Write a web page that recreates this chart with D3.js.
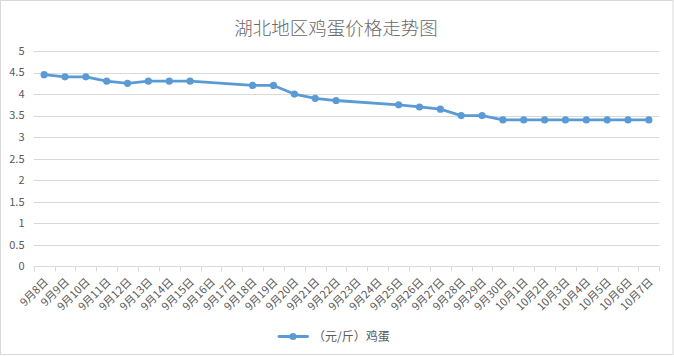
<!DOCTYPE html>
<html><head><meta charset="utf-8">
<script src="https://cdn.jsdelivr.net/npm/d3@7"></script>
<style>body{margin:0;background:#fff}svg{display:block}text{font-family:"Noto Sans CJK SC","Microsoft YaHei",sans-serif;fill:#595959}</style>
</head><body><svg id="c" width="674" height="357"></svg>
<script>
const title = "湖北地区鸡蛋价格走势图";
const seriesName = "（元/斤）鸡蛋";
const categories = ["9月8日","9月9日","9月10日","9月11日","9月12日","9月13日","9月14日","9月15日","9月16日","9月17日","9月18日","9月19日","9月20日","9月21日","9月22日","9月23日","9月24日","9月25日","9月26日","9月27日","9月28日","9月29日","9月30日","10月1日","10月2日","10月3日","10月4日","10月5日","10月6日","10月7日"];
const values = [4.45,4.4,4.4,4.3,4.25,4.3,4.3,4.3,null,null,4.2,4.2,4.0,3.9,3.85,null,null,3.75,3.7,3.65,3.5,3.5,3.4,3.4,3.4,3.4,3.4,3.4,3.4,3.4];
const yTicks = [0,0.5,1,1.5,2,2.5,3,3.5,4,4.5,5];

const svg = d3.select("#c");
const color = "#5B9BD5", grid = "#D9D9D9";
svg.append("rect").attr("x",0.5).attr("y",0.5).attr("width",672.5).attr("height",354).attr("fill","#fff").attr("stroke",grid);

const x = d3.scaleBand().domain(categories).range([33.7,659.3]);
const y = d3.scaleLinear().domain([0,5]).range([266.3,51]);

svg.append("text").attr("x",336).attr("y",35).attr("text-anchor","middle").style("font-size","18.5px").style("font-weight","300").style("fill","#6a6a6a").text(title);

// gridlines
svg.append("g").selectAll("line").data(yTicks.filter(d=>d>0)).join("line")
  .attr("x1",x.range()[0]).attr("x2",x.range()[1])
  .attr("y1",d=>Math.round(y(d))+0.5).attr("y2",d=>Math.round(y(d))+0.5)
  .attr("stroke",grid).attr("stroke-width",1);

// y labels
svg.append("g").selectAll("text").data(yTicks).join("text")
  .attr("x",24.5).attr("y",d=>y(d)).attr("dy","0.35em").attr("text-anchor","end")
  .style("font-size","11px").text(d=>d);

// x axis
const ax = svg.append("g").attr("transform",`translate(0,${Math.round(y(0))+0.5})`);
ax.append("line").attr("x1",x.range()[0]).attr("x2",x.range()[1]).attr("stroke",grid);
const bounds = categories.map(c=>x(c)).concat([x.range()[1]]);
ax.selectAll("line.t").data(bounds).join("line").attr("class","t")
  .attr("x1",d=>Math.round(d)+0.5).attr("x2",d=>Math.round(d)+0.5).attr("y1",0).attr("y2",5).attr("stroke",grid);
svg.append("g").selectAll("text").data(categories).join("text")
  .attr("transform",d=>`translate(${x(d)+x.bandwidth()/2+2},${280}) rotate(-45)`)
  .attr("text-anchor","end").attr("dy","0.35em").style("font-size","11px").text(d=>d);

// line
const pts = categories.map((c,i)=>({c,v:values[i]})).filter(d=>d.v!=null);
const line = d3.line().x(d=>x(d.c)+x.bandwidth()/2).y(d=>y(d.v));
svg.append("path").datum(pts).attr("d",line).attr("fill","none").attr("stroke",color).attr("stroke-width",2.8).attr("stroke-linejoin","round").attr("stroke-linecap","round");
svg.append("g").selectAll("circle").data(pts).join("circle")
  .attr("cx",d=>x(d.c)+x.bandwidth()/2).attr("cy",d=>y(d.v)).attr("r",3.6).attr("fill",color);

// legend
const lg = svg.append("g");
lg.append("line").attr("x1",279).attr("x2",307.5).attr("y1",336.5).attr("y2",336.5).attr("stroke",color).attr("stroke-width",2.8).attr("stroke-linecap","round");
lg.append("circle").attr("cx",293).attr("cy",336.5).attr("r",3.6).attr("fill",color);
lg.append("text").attr("x",313).attr("y",336.5).attr("dy","0.35em").style("font-size","12px").text(seriesName);
</script></body></html>
